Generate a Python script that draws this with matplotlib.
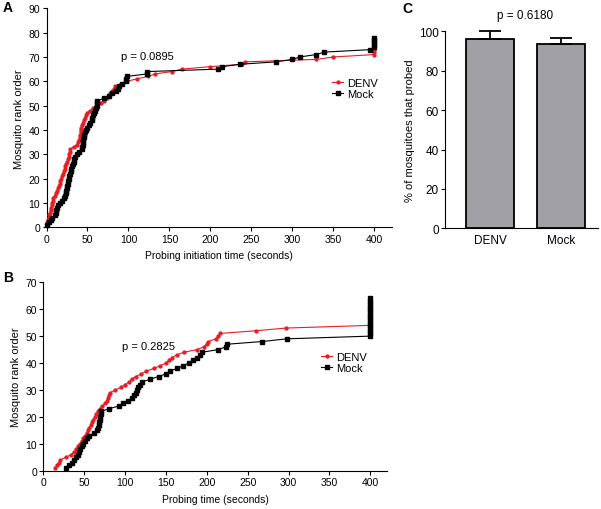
import matplotlib
matplotlib.use("Agg")
import matplotlib.pyplot as plt
import numpy as np

plt.rcParams['font.family'] = ['Liberation Sans', 'DejaVu Sans']

# ---------------- data ----------------
# Panel A: probing initiation time (s), sorted; rank = 1..n
denv_a_times = [0, 1, 2, 3, 3.5, 4, 5, 6, 6.5, 7, 7.5, 8, 10, 12, 13, 14, 15, 16, 17, 18,
                19, 20, 21, 22, 23, 24, 25, 26, 27, 28, 28.5, 29, 33, 37, 39, 40, 40.5, 41,
                41.5, 42, 42.5, 43, 44, 45.5, 47, 48, 49, 53, 57, 61, 66, 70, 74, 76, 78, 80,
                82, 84, 91, 98, 110, 124, 132, 153, 165, 199, 238, 242, 329, 350, 400, 400, 400]
mock_a_times = [1, 3, 5, 7, 10, 11, 12, 13, 14, 16, 19, 21, 22.5, 23.5, 24, 25, 25.5, 26, 26.5,
                27, 28, 29, 29.5, 30, 30.5, 32, 33, 34, 35, 37, 40, 43, 43.5, 44, 44.5, 45, 45.5,
                46, 46.5, 48, 50, 51.5, 53, 55, 56, 57, 58, 59, 60, 61, 61.5, 62, 70, 76, 80, 85,
                87, 88, 92, 97, 97.5, 98, 122, 123, 209, 214, 236, 280, 300, 309, 329, 339, 394,
                400, 400, 400, 400, 400]

# Panel B: probing time (s)
denv_b_times = [14, 17, 19, 21, 28, 34, 38, 40, 43, 45, 47, 49, 51, 53, 55, 56.5, 58, 59, 61, 63,
                65, 67, 69, 72, 76, 78, 79, 80, 82, 88, 95, 100, 105, 108, 113, 120, 126, 135,
                143, 150, 154, 157, 163, 172, 188, 196, 200, 202, 211, 214, 216, 260, 297, 400,
                400]
mock_b_times = [28, 31, 35, 37, 40, 42, 44, 45, 47, 49, 51, 53, 56, 62, 66, 67, 68, 68.5, 69, 69.5,
                70, 70.5, 80, 92, 98, 104, 108, 111, 113, 114.5, 116, 118, 121, 131, 141, 150,
                155, 163, 171, 178, 183, 188, 192, 194, 214, 223, 225, 268, 298, 400, 400, 400,
                400, 400, 400, 400, 400, 400, 400, 400, 400, 400, 400, 400]

# Panel C
groups = ["DENV", "Mock"]
pct_probed = [96.3, 93.4]
pct_err = [3.7, 3.2]

p_a = "p = 0.0895"
p_b = "p = 0.2825"
p_c = "p = 0.6180"

RED = "#E41E26"
GRAY = "#A1A1A5"

W, H = 601, 510
fig = plt.figure(figsize=(W / 100, H / 100), dpi=100)


def ax_px(left, right, top, bottom):
    return fig.add_axes([left / W, 1 - bottom / H, (right - left) / W, (bottom - top) / H])


def style(ax):
    for s in ("top", "right"):
        ax.spines[s].set_visible(False)
    for s in ("left", "bottom"):
        ax.spines[s].set_linewidth(0.8)
    ax.tick_params(direction="out", length=3, width=0.8, labelsize=7.5, pad=1.5)


def rank_plot(ax, times, color, marker, ms, z):
    t = np.asarray(times, dtype=float)
    r = np.arange(1, len(t) + 1)
    ax.plot(t, r, color=color, lw=0.8, marker=marker, ms=ms, mec=color, mfc=color,
            clip_on=False, zorder=z)


# ---------------- Panel A ----------------
axA = ax_px(46.5, 391.7, 9.3, 228.3)
style(axA)
rank_plot(axA, denv_a_times, RED, "o", 2.1, 3)
rank_plot(axA, mock_a_times, "black", "s", 2.6, 4)
axA.set_xlim(0, 421)
axA.set_ylim(0, 90)
axA.set_xticks(np.arange(0, 401, 50))
axA.set_yticks(np.arange(0, 91, 10))
axA.set_xlabel("Probing initiation time (seconds)", fontsize=7.5, labelpad=5)
axA.set_ylabel("Mosquito rank order", fontsize=8, labelpad=3)
axA.text(123, 70.6, p_a, fontsize=8, ha="center", va="center")
axA.legend(["DENV", "Mock"], loc="upper left", bbox_to_anchor=(332 / W, 1 - 79 / H),
           bbox_transform=fig.transFigure, frameon=False, fontsize=8, handlelength=1.0,
           handletextpad=0.4, labelspacing=0.1, borderpad=0, borderaxespad=0)

# ---------------- Panel B ----------------
axB = ax_px(43.3, 386.7, 283.3, 471.7)
style(axB)
rank_plot(axB, denv_b_times, RED, "o", 2.1, 3)
rank_plot(axB, mock_b_times, "black", "s", 2.6, 4)
axB.set_xlim(0, 420)
axB.set_ylim(0, 70)
axB.set_xticks(np.arange(0, 401, 50))
axB.set_yticks(np.arange(0, 71, 10))
axB.set_xlabel("Probing time (seconds)", fontsize=7.5, labelpad=5)
axB.set_ylabel("Mosquito rank order", fontsize=8, labelpad=3)
axB.text(129, 46.5, p_b, fontsize=8, ha="center", va="center")
axB.legend(["DENV", "Mock"], loc="upper left", bbox_to_anchor=(321 / W, 1 - 353 / H),
           bbox_transform=fig.transFigure, frameon=False, fontsize=8, handlelength=1.0,
           handletextpad=0.4, labelspacing=0.1, borderpad=0, borderaxespad=0)

# ---------------- Panel C ----------------
axC = ax_px(445, 598, 32.3, 229.3)
style(axC)
xpos = np.arange(len(groups))
axC.bar(xpos, pct_probed, width=0.676, color=GRAY, edgecolor="black", linewidth=1.3, zorder=2)
axC.errorbar(xpos, pct_probed, yerr=[np.zeros(len(pct_err)), pct_err], fmt="none",
             ecolor="black", elinewidth=1.3, capsize=8, capthick=1.3, clip_on=False, zorder=3)
axC.set_xlim(-0.634, 1.52)
axC.set_ylim(0, 100)
axC.set_yticks(np.arange(0, 101, 20))
axC.set_xticks(xpos)
axC.set_xticklabels(groups, fontsize=8.5)
axC.tick_params(axis="x", length=0, pad=4)
axC.tick_params(axis="y", labelsize=8.5)
axC.set_ylabel("% of mosquitoes that probed", fontsize=8, labelpad=3)
fig.text(525 / W, 1 - 16 / H, p_c, fontsize=8.5, ha="center", va="center")

# panel letters
fig.text(3 / W, 1 - 8 / H, "A", fontsize=10, fontweight="bold", ha="left", va="center")
fig.text(3 / W, 1 - 278 / H, "B", fontsize=10, fontweight="bold", ha="left", va="center")
fig.text(402 / W, 1 - 9 / H, "C", fontsize=10, fontweight="bold", ha="left", va="center")

fig.savefig("out.png", dpi=100)
